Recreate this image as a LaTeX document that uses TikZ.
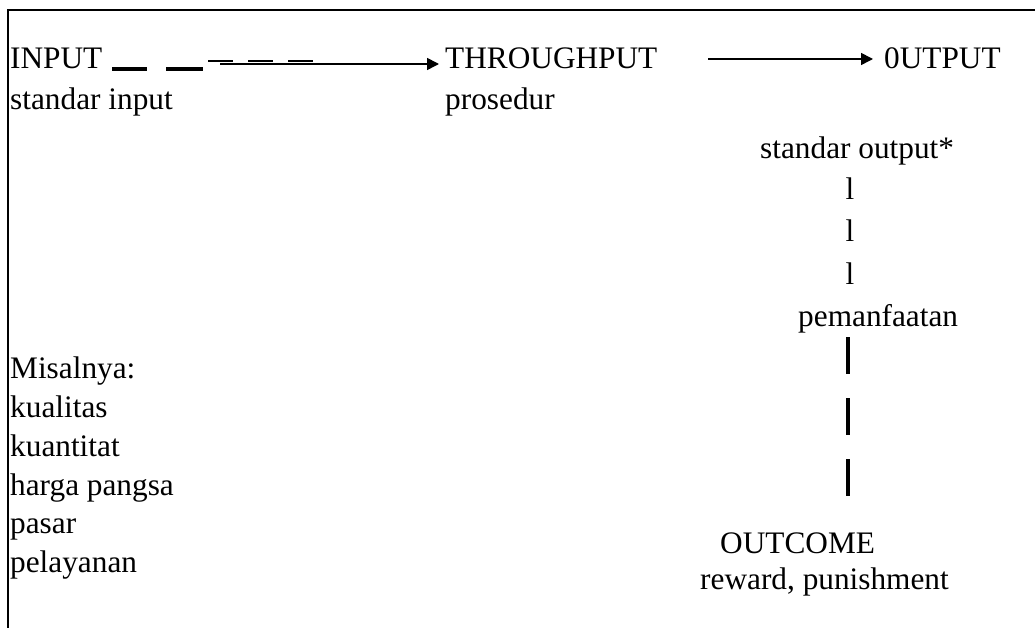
\documentclass[tikz,border=0pt]{standalone}
\usepackage{fontspec}
\setmainfont{Liberation Serif}
\usetikzlibrary{arrows.meta}
\begin{document}
\begin{tikzpicture}[x=1pt,y=-1pt,
  lbl/.style={inner sep=0pt,anchor=base west,font=\fontsize{31.3}{38}\selectfont},
  tip/.style={-{Triangle[length=12pt,width=12pt]},line width=1.6pt},
  bar/.style={line width=4pt,dash pattern=on 37pt off 24pt}]
\useasboundingbox (0,0) rectangle (1035,628);
% frame
\draw[line width=1.5pt] (1035,10) -- (8,10) -- (8,628);

% top row
\node[lbl] (input) at (10,69) {INPUT};
\node[lbl] (thru) at (445,69) {THROUGHPUT};
\node[lbl] (output) at (884,69) {0UTPUT};
\node[lbl] (stdin) at (10,110) {standar input};
\node[lbl] (proc) at (445,110) {prosedur};

% input -> throughput: broken strokes, then a solid arrow
\coordinate (d1a) at (112,69); \coordinate (d1b) at (147,69);
\coordinate (d2a) at (166,69); \coordinate (d2b) at (203,69);
\coordinate (t1a) at (208,61); \coordinate (t1b) at (318,61);
\coordinate (a1) at (220,64);
\draw[line width=3.8pt] (d1a) -- (d1b);
\draw[line width=3.4pt] (d2a) -- (d2b);
\draw[line width=1.1pt,dash pattern=on 25pt off 15pt] (t1a) -- (t1b);
\draw[tip] (a1) -- ([xshift=-6pt]thru.west |- a1);

% throughput -> output
\coordinate (a2) at (708,59);
\draw[tip] (a2) -- ([xshift=-11pt]output.west |- a2);

% right column
\node[lbl] (stdout) at (760,159) {standar output*};
\node[lbl,anchor=base] (l1) at (850,200) {l};
\node[lbl,anchor=base] (l2) at (850,242) {l};
\node[lbl,anchor=base] (l3) at (850,284) {l};
\node[lbl] (use) at (798,326) {pemanfaatan};
\node[lbl] (outcome) at (720,553) {OUTCOME};
\node[lbl] (reward) at (700,589) {reward, punishment};
\draw[bar] (848,337) coordinate (b1) -- (848,496) coordinate (b2);

% left list
\node[lbl] (ex) at (10,378) {Misalnya:};
\node[lbl] (k1) at (10,417) {kualitas};
\node[lbl] (k2) at (10,456) {kuantitat};
\node[lbl] (k3) at (10,495) {harga pangsa};
\node[lbl] (k4) at (10,533) {pasar};
\node[lbl] (k5) at (10,572) {pelayanan};
\end{tikzpicture}
\end{document}
